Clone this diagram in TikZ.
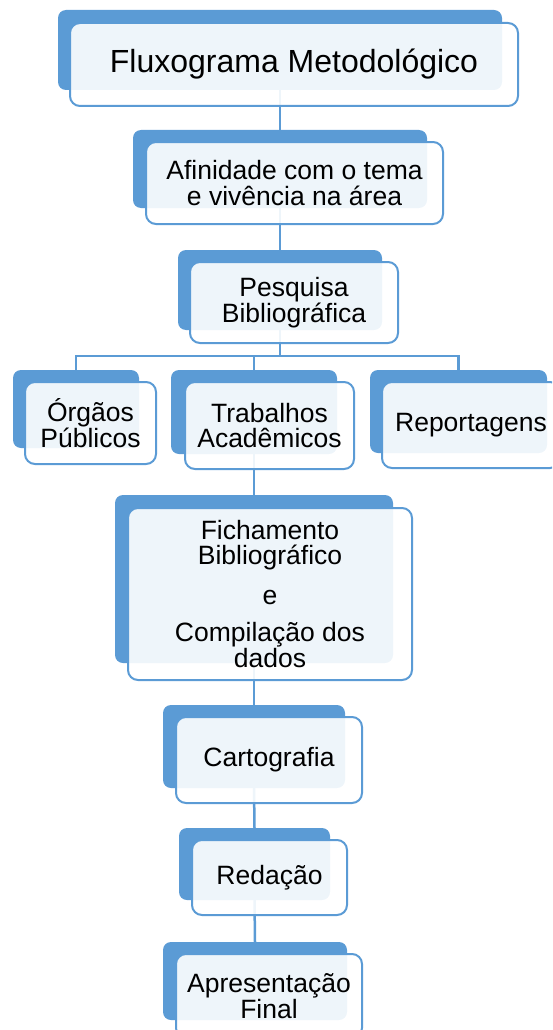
\documentclass[tikz,border=0pt]{standalone}
\usepackage{fontspec}
\setmainfont{Liberation Sans}
\usepackage{tikz}

\definecolor{azul}{HTML}{5B9BD5}

\tikzset{
  fundo/.style={fill=azul, rounded corners=8pt, inner sep=0pt},
  caixa/.style={draw=azul, line width=2pt, fill=white, fill opacity=0.9,
    text opacity=1, rounded corners=10pt, inner sep=0pt, align=center,
    font=\fontsize{26.5}{25.5}\selectfont},
  ligacao/.style={draw=azul, line width=2.5pt},
}

\begin{document}
\begin{tikzpicture}[x=1pt, y=-1pt]
           \useasboundingbox (0,0) rectangle (552,1030);
           \clip (0,0) rectangle (552,1030);

           % Fundos azuis
           \node[fundo, minimum width=444pt, minimum height=80pt] (tituloF) at (280,50) {};
           \node[fundo, minimum width=294pt, minimum height=78pt] (afinF) at (280,169) {};
           \node[fundo, minimum width=204pt, minimum height=80pt] (pesqF) at (280,290) {};
           \node[fundo, minimum width=126pt, minimum height=78pt] (orgaosF) at (76,409) {};
           \node[fundo, minimum width=166pt, minimum height=84pt] (trabF) at (254,412) {};
           \node[fundo, minimum width=177pt, minimum height=83pt] (repoF) at (458.5,411.5) {};
           \node[fundo, minimum width=278pt, minimum height=168pt] (fichF) at (254,579) {};
           \node[fundo, minimum width=182pt, minimum height=83pt] (cartoF) at (254,746.5) {};
           \node[fundo, minimum width=151pt, minimum height=72pt] (redaF) at (254.5,864) {};
           \node[fundo, minimum width=184pt, minimum height=78pt] (apresF) at (255,981) {};

           % Ligacoes
           \coordinate (barra) at (280,356);
           \draw[ligacao] (tituloF.south) -- (afinF.north);
           \draw[ligacao] (afinF.south) -- (pesqF.north);
           \draw[ligacao] (pesqF.south) -- (barra);
           \draw[ligacao] (orgaosF.north) -- (orgaosF.north |- barra) -- (repoF.north |- barra) -- (repoF.north);
           \draw[ligacao] (trabF.north) -- (trabF.north |- barra);
           \draw[ligacao] (trabF.south) -- (fichF.north);
           \draw[ligacao] (fichF.south) -- (cartoF.north);
           \draw[ligacao] (cartoF.south) -- (redaF.north);
           \draw[ligacao] (redaF.south) -- (apresF.north);

           % Caixas com texto
           \node[caixa, minimum width=448pt, minimum height=83pt, font=\fontsize{32}{32}\selectfont] (titulo) at (294,64.5) {Fluxograma Metodológico};
           \node[caixa, minimum width=297pt, minimum height=82pt] (afin) at (294.5,183) {Afinidade com o tema\\e vivência na área};
           \node[caixa, minimum width=208pt, minimum height=81pt] (pesq) at (294,302.5) {Pesquisa\\Bibliográfica};
           \node[caixa, minimum width=131pt, minimum height=82pt] (orgaos) at (90.5,423) {Órgãos\\Públicos};
           \node[caixa, minimum width=169pt, minimum height=87pt] (trab) at (269.5,425.5) {Trabalhos\\Acadêmicos};
           \node[caixa, minimum width=178pt, minimum height=86pt] (repo) at (471,425) {Reportagens};
           \node[caixa, minimum width=284pt, minimum height=172pt] (fich) at (270,594) {Fichamento\\Bibliográfico\\[14pt]e\\[12pt]Compilação dos\\dados};
           \node[caixa, minimum width=186pt, minimum height=86pt] (carto) at (269,760) {Cartografia};
           \node[caixa, minimum width=155pt, minimum height=75pt] (reda) at (269.5,877.5) {Redação};
           \node[caixa, minimum width=186pt, minimum height=84pt] (apres) at (269,996) {Apresentação\\Final};

         \end{tikzpicture}
\end{document}
